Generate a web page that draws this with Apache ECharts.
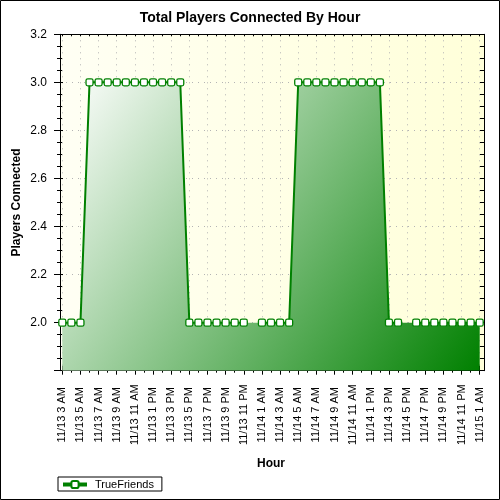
<!DOCTYPE html>
<html>
<head>
<meta charset="utf-8">
<script src="https://cdn.jsdelivr.net/npm/echarts@6/dist/echarts.min.js"></script>
<style>
  html, body { margin: 0; padding: 0; background: #fff; }
  #chart { width: 500px; height: 500px; }
</style>
</head>
<body>
<div id="chart"></div>
<script>
// hourly samples starting 11/13 3 AM (index = hours since then), null = no sample
var players = [
  2, 2, 2,
  3, 3, 3, 3, 3, 3, 3, 3, 3, 3, 3,
  2, 2, 2, 2, 2, 2, 2,
  null,
  2, 2, 2, 2,
  3, 3, 3, 3, 3, 3, 3, 3, 3, 3,
  2, 2,
  null,
  2, 2, 2, 2, 2, 2, 2, 2
];
// labels for every second hour
var tickLabels = [
  "11/13 3 AM", "11/13 5 AM", "11/13 7 AM", "11/13 9 AM", "11/13 11 AM",
  "11/13 1 PM", "11/13 3 PM", "11/13 5 PM", "11/13 7 PM", "11/13 9 PM",
  "11/13 11 PM", "11/14 1 AM", "11/14 3 AM", "11/14 5 AM", "11/14 7 AM",
  "11/14 9 AM", "11/14 11 AM", "11/14 1 PM", "11/14 3 PM", "11/14 5 PM",
  "11/14 7 PM", "11/14 9 PM", "11/14 11 PM", "11/15 1 AM"
];
var yTicks = ["2.0", "2.2", "2.4", "2.6", "2.8", "3.0", "3.2"];
var seriesName = "TrueFriends";

var FONT = "Liberation Sans, Arial, sans-serif";
var linePoints = players.map(function (v, i) { return [i, v]; });
var areaPoints = linePoints.filter(function (p) { return p[1] !== null; });

var myChart = echarts.init(document.getElementById("chart"));
var dotted = { color: "#b4b4b4", width: 1, type: [1, 5] };
var option = {
  animation: false,
  textStyle: { fontFamily: FONT },
  title: {
    text: "Total Players Connected By Hour",
    left: "center",
    top: 6,
    textStyle: { fontSize: 14, fontWeight: "bold", color: "#000", fontFamily: FONT }
  },
  graphic: [
    {
      type: "rect",
      shape: { x: 0.5, y: 0.5, width: 499, height: 499 },
      style: { fill: "none", stroke: "#000", lineWidth: 1 },
      silent: true
    }
  ],
  legend: {
    data: [seriesName],
    left: 58,
    top: 477,
    padding: [2, 8, 1, 3],
    itemWidth: 24,
    itemHeight: 9,
    backgroundColor: "#fff",
    borderColor: "#000",
    borderWidth: 1,
    borderRadius: 0,
    lineStyle: { width: 4 },
    textStyle: { fontSize: 11, color: "#000", fontFamily: FONT, padding: [0, 0, 0, 3] }
  },
  grid: [
    // data grid: first and last hour sit a little inside the frame
    { left: 62.3, right: 20.3, top: 34.3, bottom: 129.3, outerBoundsMode: "none" },
    // frame grid
    {
      left: 60, right: 16, top: 34.3, bottom: 129.3, outerBoundsMode: "none",
      show: true,
      borderWidth: 0,
      backgroundColor: {
        type: "linear", x: 0, y: 0, x2: 1, y2: 0,
        colorStops: [
          { offset: 0, color: "#fffff4" },
          { offset: 1, color: "#ffffd9" }
        ]
      }
    }
  ],
  xAxis: [
    {
      gridIndex: 0, type: "value", position: "bottom", min: 0, max: players.length - 1, interval: 2,
      name: "Hour", nameLocation: "middle", nameGap: 87, nameMoveOverlap: false,
      nameTextStyle: { fontSize: 12, fontWeight: "bold", color: "#000", fontFamily: FONT },
      axisLine: { show: false },
      axisTick: { show: true, inside: false, length: 4, lineStyle: { color: "#000" } },
      minorTick: { show: true, splitNumber: 2, length: 2, lineStyle: { color: "#000" } },
      axisLabel: {
        rotate: 90, margin: 44, align: "center", verticalAlign: "middle",
        fontSize: 11, color: "#000", fontFamily: FONT,
        showMinLabel: true, showMaxLabel: true,
        formatter: function (v) { return tickLabels[Math.round(v / 2)] || ""; }
      },
      splitLine: { show: true, lineStyle: dotted }
    },
    {
      gridIndex: 0, type: "value", position: "bottom", min: 0, max: players.length - 1, interval: 2,
      axisLine: { show: false },
      axisTick: { show: true, inside: true, length: 5, lineStyle: { color: "#000" } },
      axisLabel: { show: false },
      splitLine: { show: false }
    },
    {
      gridIndex: 0, type: "value", position: "top", min: 0, max: players.length - 1, interval: 1,
      axisLine: { show: false },
      axisTick: { show: true, inside: true, length: 2, lineStyle: { color: "#000" } },
      axisLabel: { show: false },
      splitLine: { show: false }
    },
    {
      gridIndex: 1, type: "value", position: "bottom", min: 0, max: 1,
      axisLine: { show: true, onZero: false, lineStyle: { color: "#000", width: 1 } },
      axisTick: { show: false }, axisLabel: { show: false }, splitLine: { show: false }
    },
    {
      gridIndex: 1, type: "value", position: "top", min: 0, max: 1,
      axisLine: { show: true, onZero: false, lineStyle: { color: "#000", width: 1 } },
      axisTick: { show: false }, axisLabel: { show: false }, splitLine: { show: false }
    }
  ],
  yAxis: [
    { gridIndex: 0, type: "value", min: 1.8, max: 3.2, show: false },
    {
      gridIndex: 1, type: "value", position: "left", min: 1.8, max: 3.2, interval: 0.2,
      name: "Players Connected", nameLocation: "middle", nameGap: 37, nameMoveOverlap: false,
      nameTextStyle: { fontSize: 12, fontWeight: "bold", color: "#000", fontFamily: FONT },
      axisLine: { show: true, onZero: false, lineStyle: { color: "#000", width: 1 } },
      axisTick: { show: true, inside: false, length: 6, lineStyle: { color: "#000" } },
      minorTick: { show: true, splitNumber: 4, length: 3, lineStyle: { color: "#000" } },
      axisLabel: {
        margin: 13, fontSize: 12, color: "#000", fontFamily: FONT,
        showMinLabel: false,
        formatter: function (v) {
          var i = Math.round((v - 2.0) / 0.2);
          return i >= 0 ? yTicks[i] : "";
        }
      },
      splitLine: { show: true, lineStyle: dotted }
    },
    {
      gridIndex: 1, type: "value", position: "left", min: 1.8, max: 3.2, interval: 0.2,
      axisLine: { show: false },
      axisTick: { show: true, inside: true, length: 3, lineStyle: { color: "#000" } },
      minorTick: { show: true, splitNumber: 4, length: 2, lineStyle: { color: "#000" } },
      axisLabel: { show: false },
      splitLine: { show: false }
    },
    {
      gridIndex: 1, type: "value", position: "right", min: 1.8, max: 3.2, interval: 0.05,
      axisLine: { show: true, onZero: false, lineStyle: { color: "#000", width: 1 } },
      axisTick: { show: true, inside: true, length: 4, lineStyle: { color: "#000" } },
      axisLabel: { show: false },
      splitLine: { show: false }
    }
  ],
  series: [
    {
      // gradient fill, runs under the gaps
      type: "line",
      xAxisIndex: 0,
      yAxisIndex: 0,
      data: areaPoints,
      symbol: "none",
      silent: true,
      z: 1,
      lineStyle: { width: 0 },
      areaStyle: {
        origin: "start",
        opacity: 1,
        color: {
          type: "linear", x: 0, y: 0, x2: 1, y2: 1,
          colorStops: [
            { offset: 0, color: "#ffffff" },
            { offset: 1, color: "#008000" }
          ]
        }
      }
    },
    {
      name: seriesName,
      type: "line",
      xAxisIndex: 0,
      yAxisIndex: 0,
      data: linePoints,
      connectNulls: false,
      z: 3,
      symbol: "roundRect",
      symbolSize: 7,
      showAllSymbol: true,
      color: "#008000",
      lineStyle: { color: "#008000", width: 2 },
      itemStyle: { color: "#ffffff", borderColor: "#008000", borderWidth: 1.3 }
    }
  ]
};
myChart.setOption(option);
</script>
</body>
</html>
